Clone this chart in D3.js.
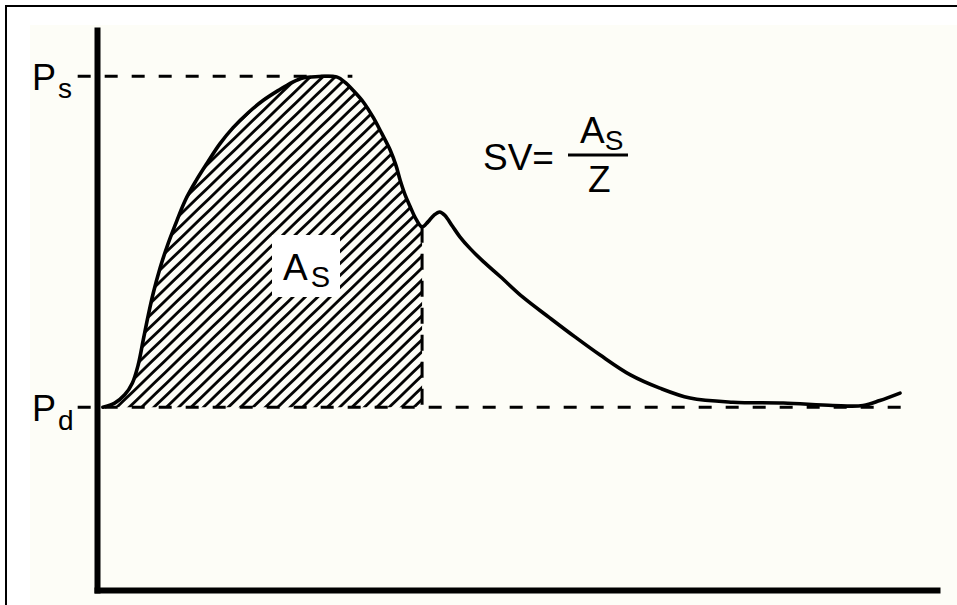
<!DOCTYPE html>
<html>
<head>
<meta charset="utf-8">
<script src="https://cdn.jsdelivr.net/npm/d3@7"></script>
<style>
  html, body { margin: 0; padding: 0; background: #ffffff; }
  svg { display: block; }
  text { font-family: "Liberation Sans", Arial, Helvetica, sans-serif; fill: #000; }
</style>
</head>
<body>
<script>
// Arterial pressure pulse over one cardiac cycle (time in ms, pressure in mmHg)
const timeMs = [7, 21, 33, 42, 49, 55, 61, 67, 75, 83, 93, 105, 118, 131, 146, 162, 180, 198, 216, 233,
  245, 254, 271, 286, 295, 305, 317, 329, 339, 349, 356, 361, 367, 373, 380, 387, 394, 401, 408, 414,
  423, 432, 444, 460, 480, 507, 539, 569, 599, 635, 670, 706, 757, 817, 876, 912, 932, 956];
const pressure = [80.0, 80.5, 81.5, 82.9, 85.1, 88.1, 91.1, 93.8, 96.8, 99.3, 102.0, 105.0, 107.4, 109.5, 111.8, 113.8, 115.6, 117.1, 118.3, 119.3,
  119.8, 119.9, 120.0, 119.9, 119.3, 118.3, 116.9, 115.0, 113.1, 111.1, 109.2, 107.4, 105.6, 104.2, 102.7, 101.8, 102.4, 103.2, 103.6, 103.2,
  101.9, 100.6, 99.2, 97.6, 95.8, 93.3, 90.8, 88.5, 86.3, 83.9, 82.3, 81.1, 80.6, 80.5, 80.2, 80.2, 80.8, 81.7];

// Systolic / diastolic reference levels and their extents along time
const levelNames = ["s", "d"];
const levelValues = [120, 80];
const levelStart = [-23, -23];
const levelEnd = [304, 958];

// End of ejection (dicrotic notch)
const ejectionEnd = 387;

// Axis extents
const timeDomain = [0, 1000];
const pressureDomain = [57.9, 125.6];

const W = 957, H = 605;
const svg = d3.select("body").append("svg").attr("width", W).attr("height", H);

// page frame and paper
svg.append("rect").attr("x", 30).attr("y", 25).attr("width", W - 30).attr("height", H - 25).attr("fill", "#fdfdf7");
svg.append("path").attr("d", `M6,${H}V6H${W}`).attr("fill", "none").attr("stroke", "#000").attr("stroke-width", 2);

const x = d3.scaleLinear().domain(timeDomain).range([97, 937]);
const y = d3.scaleLinear().domain(pressureDomain).range([590, 30]);

const data = timeMs.map((t, i) => ({ t, p: pressure[i] }));
const systole = data.filter(d => d.t <= ejectionEnd);

// hatch pattern for the systolic area
const defs = svg.append("defs");
const pat = defs.append("pattern")
  .attr("id", "hatch").attr("patternUnits", "userSpaceOnUse")
  .attr("width", 20).attr("height", 8.6)
  .attr("patternTransform", "rotate(-44)");
pat.append("line").attr("x1", 0).attr("x2", 20).attr("y1", 4.3).attr("y2", 4.3)
  .attr("stroke", "#000").attr("stroke-width", 2.8);

const area = d3.area().x(d => x(d.t)).y0(y(levelValues[1])).y1(d => y(d.p)).curve(d3.curveCatmullRom);
svg.append("path").datum(systole).attr("d", area).attr("fill", "url(#hatch)");

// dashed reference levels
const dash = "13,14";
levelValues.forEach((v, i) => {
  svg.append("line")
    .attr("x1", x(levelStart[i])).attr("x2", x(levelEnd[i]))
    .attr("y1", y(v)).attr("y2", y(v))
    .attr("stroke", "#000").attr("stroke-width", 3).attr("stroke-dasharray", dash);
});

// dashed end-of-ejection marker
const pEnd = pressure[timeMs.indexOf(ejectionEnd)];
svg.append("line")
  .attr("x1", x(ejectionEnd)).attr("x2", x(ejectionEnd))
  .attr("y1", y(pEnd)).attr("y2", y(levelValues[1]))
  .attr("stroke", "#000").attr("stroke-width", 3).attr("stroke-dasharray", "16,11");

// pressure waveform
const line = d3.line().x(d => x(d.t)).y(d => y(d.p)).curve(d3.curveCatmullRom);
svg.append("path").datum(data).attr("d", line)
  .attr("fill", "none").attr("stroke", "#000").attr("stroke-width", 3.6)
  .attr("stroke-linejoin", "round").attr("stroke-linecap", "round");

// axes (no ticks)
svg.append("g").attr("transform", `translate(${x(timeDomain[0])},0)`)
  .call(d3.axisLeft(y).tickValues([]).tickSizeOuter(0));
svg.append("g").attr("transform", `translate(0,${y(pressureDomain[0])})`)
  .call(d3.axisBottom(x).tickValues([]).tickSizeOuter(0));
svg.selectAll(".domain").attr("stroke", "#000").attr("stroke-width", 6).attr("stroke-linecap", "square");

// level labels P_s, P_d
levelValues.forEach((v, i) => {
  const t = svg.append("text").attr("x", 32).attr("y", y(v) + 14);
  t.append("tspan").attr("font-size", 36).text("P");
  t.append("tspan").attr("font-size", 28).attr("dx", 2).attr("dy", i === 0 ? 8 : 9).text(levelNames[i]);
});

// area label with white backing box
const boxG = svg.append("g");
const asLabel = boxG.append("text").attr("x", 283).attr("y", 280);
asLabel.append("tspan").attr("font-size", 37).text("A");
asLabel.append("tspan").attr("font-size", 29).attr("dx", 3).attr("dy", 7).text("S");
boxG.insert("rect", "text").attr("x", 272).attr("y", 235).attr("width", 68).attr("height", 62).attr("fill", "#fff");

// stroke volume formula
svg.append("text").attr("x", 483).attr("y", 170).attr("font-size", 37).text("SV=");
const num = svg.append("text").attr("x", 580).attr("y", 143);
num.append("tspan").attr("font-size", 37).text("A");
num.append("tspan").attr("font-size", 28).attr("dx", 0).attr("dy", 7).text("S");
svg.append("line").attr("x1", 568).attr("x2", 628).attr("y1", 155).attr("y2", 155)
  .attr("stroke", "#000").attr("stroke-width", 3);
svg.append("text").attr("x", 588).attr("y", 192).attr("font-size", 37).text("Z");
</script>
</body>
</html>
